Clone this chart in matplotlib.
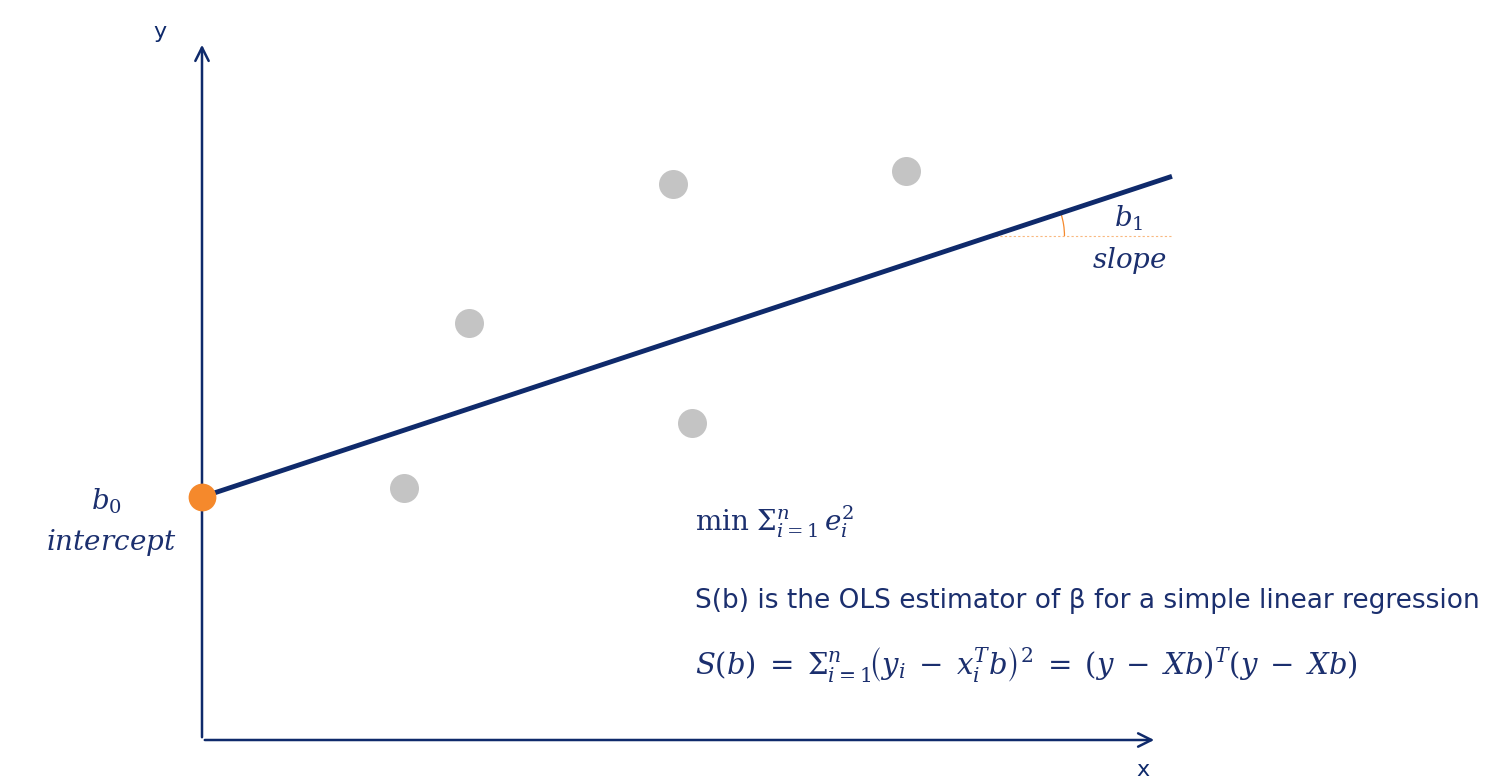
import numpy as np
import matplotlib.pyplot as plt
from matplotlib.patches import Arc

plt.rcParams['mathtext.fontset'] = 'dejavuserif'

# data (1 unit = 100 px of the original slide)
pts_x = [2.02, 2.67, 4.71, 4.90, 7.04]
pts_y = [2.52, 4.17, 5.56, 3.17, 5.69]
b0 = 2.43
b1 = 0.3306
line_x = [0.0, 9.70]
x_axis_end = 9.55
y_axis_end = 6.98

navy = '#0f2a6b'
text_navy = '#1b2f6e'
orange = '#f5892c'
grey = '#c4c4c4'

fig = plt.figure(figsize=(14.98, 7.83), dpi=100)
ax = fig.add_axes([0, 0, 1, 1])
ax.set_xlim(-2.02, 12.96)
ax.set_ylim(-0.43, 7.40)
ax.axis('off')

# axes with arrows
ax.annotate('', xy=(x_axis_end, 0), xytext=(0, 0),
            arrowprops=dict(arrowstyle='->', color=navy, lw=1.8, mutation_scale=24))
ax.annotate('', xy=(0, y_axis_end), xytext=(0, 0),
            arrowprops=dict(arrowstyle='->', color=navy, lw=1.8, mutation_scale=24))
ax.text(-0.42, 7.08, 'y', fontsize=16, color=navy, ha='center', va='center')
ax.text(9.41, -0.30, 'x', fontsize=16, color=navy, ha='center', va='center')

# observations
ax.scatter(pts_x, pts_y, s=436, color=grey, zorder=3, linewidths=0)

# fitted line
lx = np.array(line_x)
ax.plot(lx, b0 + b1 * lx, color=navy, lw=3.5, solid_capstyle='butt', zorder=4)
ax.scatter([0], [b0], s=400, color=orange, zorder=5, linewidths=0)

# slope angle marker
y_ref = 5.04
x_cross = (y_ref - b0) / b1
ax.plot([x_cross, line_x[1]], [y_ref, y_ref], color=orange, lw=0.8, ls=(0, (2, 2)), alpha=0.6)
ang = np.degrees(np.arctan(b1))
ax.add_patch(Arc((x_cross, y_ref), 1.46, 1.46, theta1=0, theta2=ang, color=orange, lw=0.9))

# labels
ax.text(9.27, 5.22, r'$b_1$', fontsize=20, color=text_navy, ha='center', va='center')
ax.text(9.27, 4.79, r'$slope$', fontsize=20, color=text_navy, ha='center', va='center')
ax.text(-0.96, 2.39, r'$b_0$', fontsize=20, color=text_navy, ha='center', va='center')
ax.text(-0.91, 1.97, r'$intercept$', fontsize=20, color=text_navy, ha='center', va='center')

# formulas
ax.text(4.93, 2.18, r'$\mathrm{min}\ \Sigma_{i=1}^{n}\, e_i^2$', fontsize=20,
        color=text_navy, ha='left', va='center')
ax.text(4.93, 1.39, 'S(b) is the OLS estimator of β for a simple linear regression',
        fontsize=19, color=text_navy, ha='left', va='center', family='DejaVu Sans')
ax.text(4.93, 0.75,
        r'$S(b)\;=\;\Sigma_{i=1}^{n}\!\left(y_i\;-\;x_i^T b\right)^2\;=\;(y\;-\;Xb)^T(y\;-\;Xb)$',
        fontsize=21, color=text_navy, ha='left', va='center')

fig.savefig('out.png', dpi=100, facecolor='white')
